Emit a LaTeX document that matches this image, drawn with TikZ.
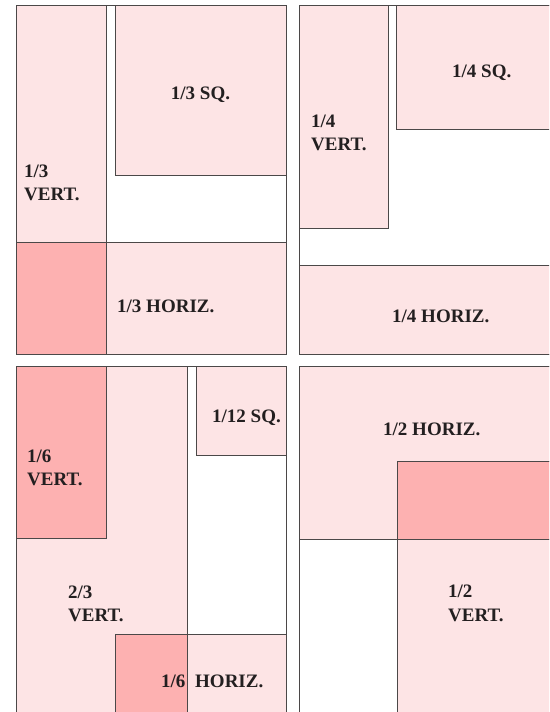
\documentclass[tikz,border=0pt]{standalone}
\usepackage{fontspec}
\setmainfont{Liberation Serif}
\definecolor{lp}{RGB}{253,228,229}
\definecolor{dp}{RGB}{253,177,177}
\definecolor{ln}{RGB}{75,72,72}
\definecolor{tx}{RGB}{35,31,32}
\begin{document}
\begin{tikzpicture}[x=1pt,y=-1pt,
  box/.style={draw=ln,line width=1pt},
  lt/.style={box,fill=lp},
  dk/.style={box,fill=dp},
  lbl/.style={anchor=base west,inner sep=0pt,text=tx,font=\fontsize{19}{22}\selectfont\bfseries}]
\useasboundingbox (0,0) rectangle (549,712);
\clip (0,0) rectangle (549,712);
% panel 1 : thirds
\draw[lt] (16,5) rectangle (106,354);
\draw[lt] (115,5) rectangle (286,175.5);
\draw[lt] (16,242.5) rectangle (286,354);
\draw[dk] (16,242.5) rectangle (106,354);
\draw[box] (16,5) rectangle (286,354);
\node[lbl,anchor=base] (sq3) at (200.5,99.5) {1/3 SQ.};
\node[lbl] (v3a) at (24,177) {1/3};
\node[lbl] (v3b) at (24,200.5) {VERT.};
\node[lbl] (h3) at (117,312) {1/3 HORIZ.};
% panel 2 : quarters
\draw[lt] (299,5) rectangle (388,228);
\draw[lt] (396.5,5) rectangle (560,129);
\draw[lt] (299,265.5) rectangle (560,354);
\draw[box] (299,5) rectangle (560,354);
\node[lbl] (sq4) at (452,77) {1/4 SQ.};
\node[lbl] (v4a) at (311,127) {1/4};
\node[lbl] (v4b) at (311,150) {VERT.};
\node[lbl] (h4) at (392,322) {1/4 HORIZ.};
% panel 3 : sixths
\draw[lt] (16,366) rectangle (187,720);
\draw[dk] (16,366) rectangle (106,538);
\draw[lt] (196.5,366) rectangle (286,455);
\draw[lt] (115,634) rectangle (286,720);
\draw[dk] (115,634) rectangle (187,720);
\draw[box] (16,366) rectangle (286,720);
\node[lbl] (sq12) at (212,422) {1/12 SQ.};
\node[lbl] (v6a) at (27,462) {1/6};
\node[lbl] (v6b) at (27,485) {VERT.};
\node[lbl] (v23a) at (68,598) {2/3};
\node[lbl] (v23b) at (68,621) {VERT.};
\node[lbl] (h6a) at (161,687) {1/6};
\node[lbl] (h6b) at (195,687) {HORIZ.};
% panel 4 : halves
\draw[lt] (299,366) rectangle (560,539);
\draw[lt] (397,461) rectangle (560,720);
\draw[dk] (397,461) rectangle (560,539);
\draw[box] (299,366) rectangle (560,720);
\node[lbl] (h2) at (383,435) {1/2 HORIZ.};
\node[lbl] (v2a) at (448,597) {1/2};
\node[lbl] (v2b) at (448,621) {VERT.};
\end{tikzpicture}
\end{document}
